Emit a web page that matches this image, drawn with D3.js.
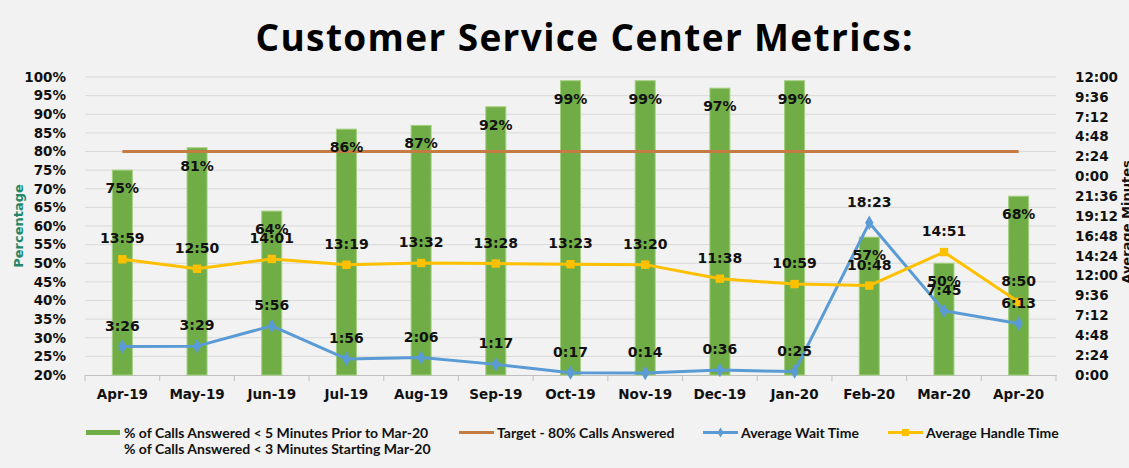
<!DOCTYPE html>
<html>
<head>
<meta charset="utf-8">
<script src="https://cdn.jsdelivr.net/npm/d3@7"></script>
<style>
  html, body { margin: 0; padding: 0; background: #f2f2f2; }
  svg { display: block; }
</style>
</head>
<body>
<svg id="chart" width="1129" height="468"></svg>
<script>
// data
const months = ["Apr-19", "May-19", "Jun-19", "Jul-19", "Aug-19", "Sep-19", "Oct-19",
  "Nov-19", "Dec-19", "Jan-20", "Feb-20", "Mar-20", "Apr-20"];
const answeredPct = [75, 81, 64, 86, 87, 92, 99, 99, 97, 99, 57, 50, 68];
const targetPct = 80;
const waitTime = ["3:26", "3:29", "5:56", "1:56", "2:06", "1:17", "0:17", "0:14", "0:36", "0:25", "18:23", "7:45", "6:13"];
const handleTime = ["13:59", "12:50", "14:01", "13:19", "13:32", "13:28", "13:23", "13:20", "11:38", "10:59", "10:48", "14:51", "8:50"];

const leftTicks = [20, 25, 30, 35, 40, 45, 50, 55, 60, 65, 70, 75, 80, 85, 90, 95, 100];
const rightTickLabels = ["0:00", "2:24", "4:48", "7:12", "9:36", "12:00", "14:24", "16:48", "19:12",
  "21:36", "0:00", "2:24", "4:48", "7:12", "9:36", "12:00"];

const legendItems = [
  { key: "bar", lines: ["% of Calls Answered < 5 Minutes Prior to Mar-20", "% of Calls Answered < 3 Minutes Starting Mar-20"] },
  { key: "target", lines: ["Target - 80% Calls Answered"] },
  { key: "wait", lines: ["Average Wait Time"] },
  { key: "handle", lines: ["Average Handle Time"] }
];

const C = { bar: "#70ad47", barEdge: "#a3cf7f", target: "#c47c44", wait: "#5b9bd5", handle: "#ffc000",
  grid: "#d9d9d9", axis: "#bfbfbf", teal: "#23876a" };
const labelFont = "'DejaVu Sans', Verdana, sans-serif";

// "m:ss" shown on an axis that Excel formats as h:mm
const toUnits = s => { const [a, b] = s.split(":").map(Number); return a + b / 60; };

const svg = d3.select("#chart");
const W = +svg.attr("width"), H = +svg.attr("height");
const M = { top: 77, right: 73, bottom: 93, left: 85 };
const x0 = M.left, x1 = W - M.right, yTop = M.top, yBot = H - M.bottom;

svg.append("rect").attr("width", W).attr("height", H).attr("fill", "#f2f2f2");

const x = d3.scaleBand().domain(months).range([x0, x1]).padding(0);
const yL = d3.scaleLinear().domain([20, 100]).range([yBot, yTop]);
const yR = d3.scaleLinear().domain([0, 36]).range([yBot, yTop]);
const cx = d => x(d) + x.bandwidth() / 2;

// title
svg.append("text")
  .attr("x", 584).attr("y", 51)
  .attr("text-anchor", "middle")
  .attr("textLength", 657).attr("lengthAdjust", "spacing")
  .style("font-family", "'Open Sans', Lato, sans-serif")
  .style("font-weight", 700).style("font-size", "37px")
  .attr("fill", "#000")
  .text("Customer Service Center Metrics:");

// gridlines
svg.append("g").selectAll("line").data(leftTicks.slice(1)).join("line")
  .attr("x1", x0).attr("x2", x1)
  .attr("y1", d => yL(d)).attr("y2", d => yL(d))
  .attr("stroke", C.grid).attr("stroke-width", 1);

// left axis
const gl = svg.append("g").attr("transform", `translate(${x0},0)`)
  .call(d3.axisLeft(yL).tickValues(leftTicks).tickSize(0).tickPadding(19).tickFormat(d => d + "%"));
gl.select(".domain").remove();
gl.selectAll("text").style("font-family", labelFont).style("font-weight", 700).style("font-size", "13.5px").attr("fill", "#111");

// right axis
const rightTickValues = rightTickLabels.map((_, i) => i * 2.4);
const gr = svg.append("g").attr("transform", `translate(${x1},0)`)
  .call(d3.axisRight(yR).tickValues(rightTickValues).tickSize(0).tickPadding(19)
    .tickFormat((d, i) => rightTickLabels[i]));
gr.select(".domain").remove();
gr.selectAll("text").style("font-family", labelFont).style("font-weight", 700).style("font-size", "13.5px").attr("fill", "#111");

// bottom axis
const gx = svg.append("g").attr("transform", `translate(0,${yBot})`)
  .call(d3.axisBottom(x).tickSize(0).tickPadding(14).tickSizeOuter(0));
gx.select(".domain").attr("stroke", C.axis);
gx.selectAll("text").style("font-family", labelFont).style("font-weight", 700).style("font-size", "13.5px").attr("fill", "#111");
svg.append("g").selectAll("line").data(months.map(m => x(m)).concat([x1])).join("line")
  .attr("x1", d => d).attr("x2", d => d).attr("y1", yBot).attr("y2", yBot + 6)
  .attr("stroke", C.axis);

// axis titles
svg.append("text")
  .attr("transform", `translate(23,226) rotate(-90)`)
  .attr("text-anchor", "middle")
  .style("font-family", labelFont).style("font-weight", 700).style("font-size", "13px")
  .attr("fill", C.teal).text("Percentage");
svg.append("text")
  .attr("transform", `translate(1131,222) rotate(-90)`)
  .attr("text-anchor", "middle")
  .style("font-family", labelFont).style("font-weight", 700).style("font-size", "13px")
  .attr("fill", "#111").text("Average Minutes");

// bars
const barW = 20;
svg.append("g").selectAll("rect").data(answeredPct).join("rect")
  .attr("x", (d, i) => cx(months[i]) - barW / 2)
  .attr("y", d => yL(d))
  .attr("width", barW)
  .attr("height", d => yBot - yL(d))
  .attr("fill", C.bar).attr("stroke", C.barEdge).attr("stroke-width", 1);

// target line
svg.append("line")
  .attr("x1", cx(months[0])).attr("x2", cx(months[months.length - 1]))
  .attr("y1", yL(targetPct)).attr("y2", yL(targetPct))
  .attr("stroke", C.target).attr("stroke-width", 3);

// lines
const series = [
  { key: "wait", vals: waitTime, color: C.wait, marker: d3.symbolDiamond },
  { key: "handle", vals: handleTime, color: C.handle, marker: d3.symbolSquare }
];
series.forEach(s => {
  const pts = s.vals.map((v, i) => ({ m: months[i], v: toUnits(v), label: v }));
  svg.append("path").datum(pts)
    .attr("fill", "none").attr("stroke", s.color).attr("stroke-width", 3)
    .attr("stroke-linejoin", "round")
    .attr("d", d3.line().x(d => cx(d.m)).y(d => yR(d.v)));
  svg.append("g").selectAll("path").data(pts).join("path")
    .attr("transform", d => `translate(${cx(d.m)},${yR(d.v)})`)
    .attr("d", d3.symbol().type(s.marker).size(s.key === "wait" ? 60 : 70))
    .attr("fill", s.color);
});

// data labels
const labels = svg.append("g")
  .style("font-family", labelFont).style("font-weight", 700).style("font-size", "14px")
  .attr("fill", "#111").attr("text-anchor", "middle").attr("dominant-baseline", "central");
labels.selectAll(".bl").data(answeredPct).join("text").attr("class", "bl")
  .attr("x", (d, i) => cx(months[i])).attr("y", d => yL(d) + 18)
  .text(d => d + "%");
series.forEach(s => {
  labels.selectAll(".l" + s.key).data(s.vals).join("text").attr("class", "l" + s.key)
    .attr("x", (d, i) => cx(months[i])).attr("y", d => yR(toUnits(d)) - 21)
    .text(d => d);
});

// legend
const lg = svg.append("g")
  .style("font-family", "Lato, 'Open Sans', sans-serif").style("font-weight", 700).style("font-size", "14px")
  .attr("fill", "#111");
const legX = { bar: 86, target: 459, wait: 703, handle: 888 };
const legY = 432.5;
legendItems.forEach(item => {
  const lx = legX[item.key];
  if (item.key === "bar") {
    lg.append("rect").attr("x", lx).attr("y", legY - 2.5).attr("width", 34).attr("height", 5).attr("fill", C.bar);
  } else {
    const col = item.key === "target" ? C.target : item.key === "wait" ? C.wait : C.handle;
    lg.append("line").attr("x1", lx).attr("x2", lx + 35).attr("y1", legY).attr("y2", legY)
      .attr("stroke", col).attr("stroke-width", 3);
    if (item.key !== "target") {
      lg.append("path").attr("transform", `translate(${lx + 17.5},${legY})`)
        .attr("d", d3.symbol().type(item.key === "wait" ? d3.symbolDiamond : d3.symbolSquare).size(item.key === "wait" ? 30 : 50))
        .attr("fill", col);
    }
  }
  item.lines.forEach((t, j) => {
    lg.append("text").attr("x", lx + 38).attr("y", legY + j * 15.5)
      .attr("dominant-baseline", "central").text(t);
  });
});
</script>
</body>
</html>
